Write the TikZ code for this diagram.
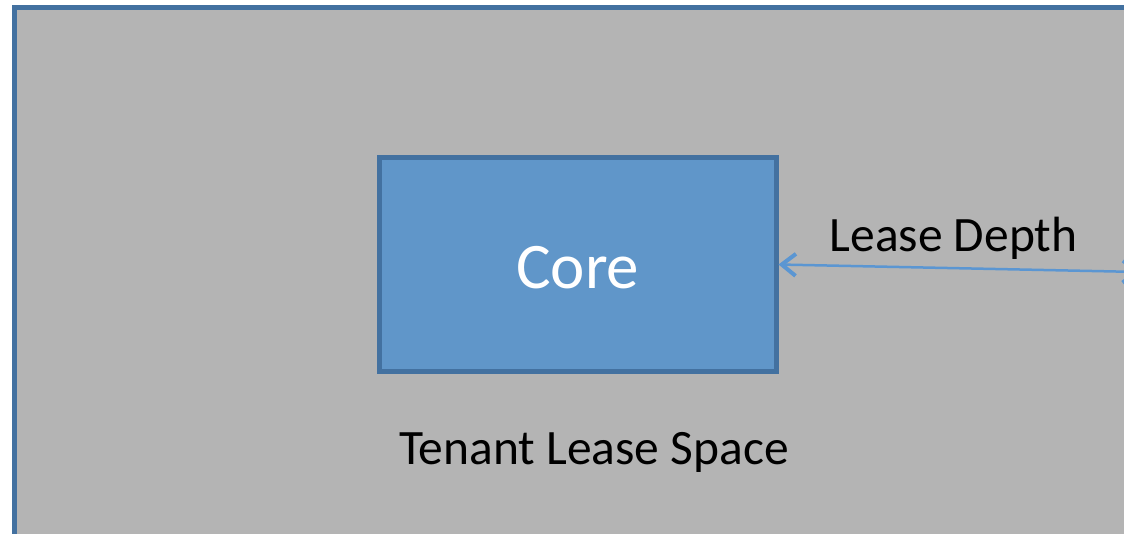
\documentclass[tikz,border=0pt]{standalone}
\usepackage{fontspec}
\setmainfont{Carlito}
\usepackage{tikz}
\usetikzlibrary{arrows.meta}
\usetikzlibrary{positioning}
\definecolor{spacegray}{HTML}{B4B4B4}
\definecolor{edgeblue}{HTML}{4371A0}
\definecolor{corefill}{HTML}{6096C9}
\definecolor{dimblue}{HTML}{5B96D2}
\pgfkeys{tikz/leasespace/.style={fill=spacegray,draw=edgeblue,line width=5pt}}
\pgfkeys{tikz/corebox/.style={rectangle,fill=corefill,draw=edgeblue,line width=5pt,minimum width=396.5pt,minimum height=214pt,inner sep=0pt,text=white,font=\fontsize{65pt}{78pt}\selectfont}}
\pgfkeys{tikz/dimarrow/.style={draw=dimblue,line width=2.5pt,{Straight Barb[length=14pt,width=22pt,line width=4pt]}-{Straight Barb[length=14pt,width=22pt,line width=4pt]}}}
\pgfkeys{tikz/plainlabel/.style={anchor=base,inner sep=0pt,font=\fontsize{49.5pt}{60pt}\selectfont}}

\begin{document}
\begin{tikzpicture}[x=1pt,y=-1pt]
    \useasboundingbox (0,0) rectangle (1124,534);
    \clip (0,0) rectangle (1124,534);
    % floor plate runs off the right and bottom
    \draw[leasespace] (14.5,7.5) rectangle (1140,545);
    \node[corebox] (core) at (577.75,264.5) {\raisebox{-24.5pt}[0pt][0pt]{Core}};
    \coordinate (depthend) at (1140,272);
    \draw[dimarrow] (core.east) -- (depthend);
    \node[plainlabel] (depth) at (953.5,252) {Lease Depth};
    \node[plainlabel] (tenant) at (594,464) {Tenant Lease Space};
\end{tikzpicture}
\end{document}
